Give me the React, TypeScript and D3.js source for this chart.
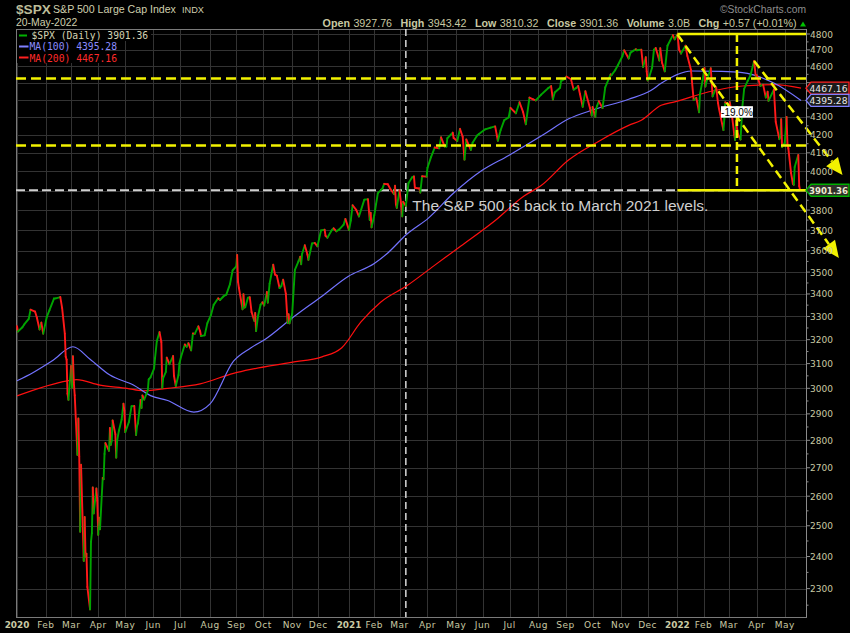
import React from "react";
import * as d3 from "d3";

type Pt = [string, number];

// ---- S&P 500 closes (~2-3 per week) ----
const price2020: Pt[] = [
  ["2020-01-02",3257.85],["2020-01-03",3234.85],["2020-01-08",3253.05],["2020-01-10",3265.35],["2020-01-15",3289.29],["2020-01-17",3329.62],["2020-01-22",3321.75],["2020-01-24",3295.47],["2020-01-27",3243.63],["2020-01-29",3273.40],["2020-01-31",3225.52],
  ["2020-02-04",3297.59],["2020-02-07",3327.71],["2020-02-12",3379.45],["2020-02-14",3380.16],["2020-02-19",3386.15],["2020-02-21",3337.75],["2020-02-24",3225.89],["2020-02-25",3128.21],["2020-02-26",3116.39],["2020-02-27",2978.76],["2020-02-28",2954.22],
  ["2020-03-02",3090.23],["2020-03-03",3003.37],["2020-03-04",3130.12],["2020-03-05",3023.94],["2020-03-06",2972.37],["2020-03-09",2746.56],["2020-03-10",2882.23],["2020-03-11",2741.38],["2020-03-12",2480.64],["2020-03-13",2711.02],["2020-03-16",2386.13],["2020-03-17",2529.19],["2020-03-18",2398.10],["2020-03-19",2409.39],["2020-03-20",2304.92],["2020-03-23",2237.40],["2020-03-24",2447.33],["2020-03-25",2475.56],["2020-03-26",2630.07],["2020-03-27",2541.47],["2020-03-30",2626.65],["2020-03-31",2584.59],
  ["2020-04-01",2470.50],["2020-04-02",2526.90],["2020-04-03",2488.65],["2020-04-06",2663.68],["2020-04-07",2659.41],["2020-04-08",2749.98],["2020-04-09",2789.82],["2020-04-13",2761.63],["2020-04-14",2846.06],["2020-04-15",2783.36],["2020-04-16",2799.55],["2020-04-17",2874.56],["2020-04-20",2823.16],["2020-04-21",2736.56],["2020-04-22",2799.31],["2020-04-24",2836.74],["2020-04-27",2878.48],["2020-04-29",2939.51],["2020-04-30",2912.43],
  ["2020-05-01",2830.71],["2020-05-05",2868.44],["2020-05-08",2929.80],["2020-05-11",2930.32],["2020-05-13",2820.00],["2020-05-14",2852.50],["2020-05-15",2863.70],["2020-05-18",2953.91],["2020-05-19",2922.94],["2020-05-20",2971.61],["2020-05-22",2955.45],["2020-05-26",2991.77],["2020-05-27",3036.13],["2020-05-29",3044.31],
  ["2020-06-02",3080.82],["2020-06-03",3122.87],["2020-06-05",3193.93],["2020-06-08",3232.39],["2020-06-10",3190.14],["2020-06-11",3002.10],["2020-06-12",3041.31],["2020-06-15",3066.59],["2020-06-16",3124.74],["2020-06-19",3097.74],["2020-06-23",3131.29],["2020-06-24",3050.33],["2020-06-26",3009.05],["2020-06-29",3053.24],["2020-06-30",3100.29],
  ["2020-07-02",3130.01],["2020-07-06",3179.72],["2020-07-08",3169.94],["2020-07-10",3185.04],["2020-07-13",3155.22],["2020-07-15",3226.56],["2020-07-17",3224.73],["2020-07-21",3257.30],["2020-07-23",3235.66],["2020-07-24",3215.63],["2020-07-28",3218.44],["2020-07-31",3271.12],
  ["2020-08-04",3306.51],["2020-08-07",3351.28],["2020-08-12",3380.35],["2020-08-14",3372.85],["2020-08-18",3389.78],["2020-08-21",3397.16],["2020-08-25",3443.62],["2020-08-28",3508.01],
  ["2020-09-01",3526.65],["2020-09-02",3580.84],["2020-09-03",3455.06],["2020-09-04",3426.96],["2020-09-08",3331.84],["2020-09-09",3398.96],["2020-09-10",3339.19],["2020-09-11",3340.97],["2020-09-14",3383.54],["2020-09-16",3385.49],["2020-09-18",3319.47],["2020-09-21",3281.06],["2020-09-22",3315.57],["2020-09-23",3236.92],["2020-09-25",3298.46],["2020-09-28",3351.60],["2020-09-30",3363.00],
  ["2020-10-02",3348.44],["2020-10-05",3408.63],["2020-10-06",3360.97],["2020-10-08",3446.83],["2020-10-12",3534.22],["2020-10-14",3488.67],["2020-10-16",3483.81],["2020-10-19",3426.92],["2020-10-21",3435.56],["2020-10-23",3465.39],["2020-10-26",3400.97],["2020-10-28",3271.03],["2020-10-29",3310.11],["2020-10-30",3269.96],
  ["2020-11-02",3310.24],["2020-11-04",3443.44],["2020-11-05",3510.45],["2020-11-09",3550.50],["2020-11-11",3572.66],["2020-11-12",3537.01],["2020-11-13",3585.15],["2020-11-16",3626.91],["2020-11-19",3581.87],["2020-11-20",3557.54],["2020-11-24",3635.41],["2020-11-27",3638.35],["2020-11-30",3621.63],
  ["2020-12-04",3699.12],["2020-12-08",3702.25],["2020-12-09",3672.82],["2020-12-11",3663.46],["2020-12-16",3701.17],["2020-12-18",3709.41],["2020-12-21",3694.92],["2020-12-24",3703.06],["2020-12-29",3727.04],["2020-12-31",3756.07],
];
const price2021: Pt[] = [
  ["2021-01-04",3700.65],["2021-01-06",3748.14],["2021-01-08",3824.68],["2021-01-12",3801.19],["2021-01-15",3768.25],["2021-01-21",3853.07],["2021-01-25",3855.36],["2021-01-27",3750.77],["2021-01-28",3787.38],["2021-01-29",3714.24],
  ["2021-02-01",3773.86],["2021-02-03",3830.17],["2021-02-05",3886.83],["2021-02-10",3909.88],["2021-02-12",3934.83],["2021-02-16",3932.59],["2021-02-19",3906.71],["2021-02-23",3881.37],["2021-02-24",3925.43],["2021-02-25",3829.34],["2021-02-26",3811.15],
  ["2021-03-01",3901.82],["2021-03-03",3819.72],["2021-03-04",3768.47],["2021-03-05",3841.94],["2021-03-08",3821.35],["2021-03-11",3939.34],["2021-03-15",3968.94],["2021-03-17",3974.12],["2021-03-18",3915.46],["2021-03-19",3913.10],["2021-03-23",3910.52],["2021-03-24",3889.14],["2021-03-26",3974.54],["2021-03-31",3972.89],
  ["2021-04-01",4019.87],["2021-04-05",4077.91],["2021-04-09",4128.80],["2021-04-14",4124.66],["2021-04-16",4185.47],["2021-04-20",4134.94],["2021-04-22",4134.98],["2021-04-23",4180.17],["2021-04-29",4211.47],["2021-04-30",4181.17],
  ["2021-05-04",4164.66],["2021-05-07",4232.60],["2021-05-10",4188.43],["2021-05-12",4063.04],["2021-05-14",4173.85],["2021-05-19",4115.68],["2021-05-21",4155.86],["2021-05-26",4195.99],["2021-05-28",4204.11],
  ["2021-06-04",4229.89],["2021-06-10",4239.18],["2021-06-15",4246.59],["2021-06-18",4166.45],["2021-06-21",4224.79],["2021-06-25",4280.70],["2021-06-30",4297.50],
  ["2021-07-02",4352.34],["2021-07-08",4320.82],["2021-07-12",4384.63],["2021-07-16",4327.16],["2021-07-19",4258.49],["2021-07-23",4411.79],["2021-07-27",4401.46],["2021-07-30",4395.26],
  ["2021-08-05",4429.10],["2021-08-13",4468.00],["2021-08-16",4479.71],["2021-08-18",4400.27],["2021-08-20",4441.67],["2021-08-26",4469.91],["2021-08-27",4509.37],["2021-08-31",4522.68],
  ["2021-09-02",4536.95],["2021-09-07",4520.03],["2021-09-10",4458.58],["2021-09-13",4468.73],["2021-09-15",4480.70],["2021-09-17",4432.99],["2021-09-20",4357.73],["2021-09-23",4448.98],["2021-09-28",4352.63],["2021-09-30",4307.54],
  ["2021-10-01",4357.04],["2021-10-04",4300.46],["2021-10-05",4345.72],["2021-10-06",4363.55],["2021-10-08",4391.34],["2021-10-12",4350.65],["2021-10-15",4471.37],["2021-10-21",4549.78],["2021-10-22",4544.90],["2021-10-26",4574.79],["2021-10-29",4605.38],
  ["2021-11-03",4660.57],["2021-11-05",4697.53],["2021-11-10",4646.71],["2021-11-12",4682.85],["2021-11-18",4704.54],["2021-11-19",4697.96],["2021-11-24",4701.46],["2021-11-26",4594.62],["2021-11-29",4655.27],["2021-11-30",4567.00],
  ["2021-12-01",4513.04],["2021-12-03",4538.43],["2021-12-06",4591.67],["2021-12-08",4701.21],["2021-12-10",4712.02],["2021-12-14",4634.09],["2021-12-15",4709.85],["2021-12-17",4620.64],["2021-12-20",4568.02],["2021-12-23",4725.79],["2021-12-29",4793.06],["2021-12-31",4766.18],
];
const price2022: Pt[] = [
  ["2022-01-03",4796.56],["2022-01-05",4700.58],["2022-01-07",4677.03],["2022-01-12",4726.35],["2022-01-14",4662.85],["2022-01-18",4577.11],["2022-01-21",4397.94],["2022-01-24",4410.13],["2022-01-27",4326.51],["2022-01-28",4431.85],["2022-01-31",4515.55],
  ["2022-02-02",4589.38],["2022-02-03",4477.44],["2022-02-04",4500.53],["2022-02-09",4587.18],["2022-02-10",4504.08],["2022-02-11",4418.64],["2022-02-15",4471.07],["2022-02-17",4380.26],["2022-02-18",4348.87],["2022-02-23",4225.50],["2022-02-24",4288.70],["2022-02-25",4384.65],["2022-02-28",4373.94],
  ["2022-03-01",4306.26],["2022-03-02",4386.54],["2022-03-04",4328.87],["2022-03-07",4201.09],["2022-03-08",4170.70],["2022-03-09",4277.88],["2022-03-11",4204.31],["2022-03-14",4173.11],["2022-03-16",4357.86],["2022-03-18",4463.12],["2022-03-22",4511.61],["2022-03-25",4543.06],["2022-03-29",4631.60],["2022-03-31",4530.41],
  ["2022-04-01",4545.86],["2022-04-05",4481.15],["2022-04-08",4488.28],["2022-04-11",4412.53],["2022-04-13",4446.59],["2022-04-14",4392.59],["2022-04-20",4459.45],["2022-04-22",4271.78],["2022-04-26",4175.20],["2022-04-27",4183.96],["2022-04-28",4287.50],["2022-04-29",4131.93],
  ["2022-05-02",4155.38],["2022-05-04",4300.17],["2022-05-05",4146.87],["2022-05-06",4123.34],["2022-05-09",3991.24],["2022-05-11",3935.18],["2022-05-12",3930.08],["2022-05-13",4023.89],["2022-05-17",4088.85],["2022-05-18",3923.68],["2022-05-19",3900.79],["2022-05-20",3901.36],
];

// ---- moving averages ----
const ma100: Pt[] = [
  ["2020-01-02",3030],["2020-01-20",3064],["2020-02-11",3114],["2020-03-04",3170],["2020-03-23",3118],["2020-04-14",3053],["2020-05-10",3013],["2020-05-29",2971],["2020-06-17",2952],["2020-07-16",2907],["2020-08-03",2939],["2020-08-29",3110],["2020-09-17",3165],["2020-10-04",3204],["2020-11-01",3290],["2020-12-05",3390],["2021-01-03",3480],["2021-02-01",3540],["2021-02-16",3590],["2021-03-09",3680],["2021-04-02",3760],["2021-04-30",3887],["2021-05-30",4001],["2021-06-30",4086],["2021-08-09",4205],["2021-09-04",4288],["2021-10-03",4343],["2021-11-10",4402],["2021-12-05",4455],["2021-12-16",4496],["2022-01-19",4570],["2022-02-21",4568],["2022-03-16",4560],["2022-04-21",4495],["2022-05-20",4395.28],
];
const ma200: Pt[] = [
  ["2020-01-02",2970],["2020-02-27",3030],["2020-03-08",3035],["2020-04-03",3013],["2020-05-03",3000],["2020-05-21",2990],["2020-06-17",3000],["2020-07-23",3018],["2020-08-29",3060],["2020-09-17",3076],["2020-11-01",3105],["2020-12-05",3128],["2020-12-27",3166],["2021-01-17",3275],["2021-02-08",3363],["2021-03-09",3437],["2021-04-08",3529],["2021-05-08",3623],["2021-06-14",3744],["2021-07-17",3872],["2021-08-05",3926],["2021-09-04",4060],["2021-10-08",4164],["2021-11-10",4252],["2021-11-24",4281],["2021-12-16",4367],["2021-12-31",4387],["2022-02-07",4446],["2022-03-16",4480],["2022-04-21",4488],["2022-05-20",4467.16],
];

// ---- axis / annotations ----
const yTickValues = d3.range(2300, 4801, 100);
const yMinorValues = d3.range(2250, 4801, 50).filter((v) => v % 100 !== 0);
const yDomain: [number, number] = [2215, 4832];
const dateDomain: [string, string] = ["2020-01-02", "2022-05-20"];
const dashedLevels = [4525, 4140];
const lastClose = 3901.36;
const peakLevel = 4800;
const rangeStartDate = "2022-01-03";
const dropMarkDate = "2022-03-10";
const dropLabel = "-19.0%";
const dropLabelValue = 4330;
const marchLineDate = "2021-03-08";
const trendLines: [Pt, Pt][] = [
  [["2022-01-03", 4796.56], ["2022-07-01", 3566]],
  [["2022-03-29", 4631.6], ["2022-07-05", 3981]],
];
const headerItems: [string, string][] = [
  ["Open", "3927.76"], ["High", "3943.42"], ["Low", "3810.32"], ["Close", "3901.36"], ["Volume", "3.0B"], ["Chg", "+0.57 (+0.01%)"],
];

const W = 850, H = 633;
const L = 16, R = 806, T = 29, B = 617;
const SANS = "Arial, 'Liberation Sans', sans-serif";
const DJ = "'DejaVu Sans', Verdana, sans-serif";
const MONO = "'DejaVu Sans Mono', monospace";
const KHAKI = "#c9c9a3";

const parse = (s: string) => d3.utcParse("%Y-%m-%d")(s) as Date;

export default function App() {
  const prices = [...price2020, ...price2021, ...price2022].map(([d, v]) => ({ date: parse(d), value: v }));
  const x = d3.scaleUtc().domain(dateDomain.map(parse)).range([17, 801]);
  const y = d3.scaleLog().domain(yDomain).range([B, T]);

  const months = d3.utcMonth.range(new Date(Date.UTC(2020, 0, 1)), new Date(Date.UTC(2022, 5, 1)));
  const firstTrading = (m: Date) => {
    const d = new Date(m.getTime());
    if (d.getUTCMonth() === 0) d.setUTCDate(2);
    while (d.getUTCDay() === 0 || d.getUTCDay() === 6) d.setUTCDate(d.getUTCDate() + 1);
    return d;
  };
  const monthTicks = months.map((m) => ({
    x: x(firstTrading(m)),
    label: m.getUTCMonth() === 0 ? String(m.getUTCFullYear()) : d3.utcFormat("%b")(m),
    year: m.getUTCMonth() === 0,
  }));

  const maLine = d3.line<Pt>().x((d) => x(parse(d[0]))).y((d) => y(d[1])).curve(d3.curveMonotoneX);

  const segs = prices.slice(1).map((p, i) => {
    const prev = prices[i];
    return { x1: x(prev.date), y1: y(prev.value), x2: x(p.date), y2: y(p.value), up: p.value >= prev.value };
  });

  const arrow = (a: Pt, b: Pt) => {
    const x1 = x(parse(a[0])), y1 = y(a[1]), x2 = x(parse(b[0])), y2 = y(b[1]);
    const len = Math.hypot(x2 - x1, y2 - y1);
    const ux = (x2 - x1) / len, uy = (y2 - y1) / len;
    const hl = 17, hw = 7.5;
    const bx = x2 - ux * hl, by = y2 - uy * hl;
    return {
      x1, y1, bx, by,
      pts: `${x2},${y2} ${bx - uy * hw},${by + ux * hw} ${bx + uy * hw},${by - ux * hw}`,
    };
  };

  const xr0 = x(parse(rangeStartDate));
  const xDrop = x(parse(dropMarkDate));
  const xMarch = x(parse(marchLineDate));
  const yClose = y(lastClose);

  const ma100Last = ma100[ma100.length - 1][1];
  const ma200Last = ma200[ma200.length - 1][1];

  const boxes = [
    { v: ma200Last, stroke: "#ff2020", fill: "#1c1c1c", color: "#e6e6e6", bold: false },
    { v: ma100Last, stroke: "#8080ff", fill: "#1c1c1c", color: "#e6e6e6", bold: false },
    { v: lastClose, stroke: "#00b000", fill: "#30302a", color: "#ececd0", bold: true },
  ];
  // tick labels that sit under a value box are hidden by it, as in the reference
  const visibleTicks = yTickValues.filter((v) => boxes.every((b) => Math.abs(y(v) - y(b.v)) > 6.5));

  return (
    <svg width={W} height={H} style={{ position: "absolute", left: 0, top: 0, background: "#000" }}>
      <rect x={0} y={0} width={W} height={H} fill="#000" />
      {/* grid */}
      <g stroke="#333" strokeWidth={1}>
        {yTickValues.map((v) => (
          <line key={v} x1={L} x2={R} y1={Math.round(y(v)) + 0.5} y2={Math.round(y(v)) + 0.5} />
        ))}
        {monthTicks.map((m, i) => (
          <line key={i} x1={Math.round(m.x) + 0.5} x2={Math.round(m.x) + 0.5} y1={T} y2={B} />
        ))}
      </g>
      {/* frame */}
      <rect x={L + 0.5} y={T + 0.5} width={R - L} height={B - T} fill="none" stroke="#7a7a7a" strokeWidth={1} />

      {/* white dashed reference lines */}
      <line x1={xMarch} x2={xMarch} y1={T} y2={B} stroke="#d8d8d8" strokeWidth={1.5} strokeDasharray="7 4" />
      <line x1={L} x2={R} y1={yClose} y2={yClose} stroke="#d0d0d0" strokeWidth={2} strokeDasharray="9 4" />

      {/* moving averages */}
      <path d={maLine(ma200) || ""} fill="none" stroke="#ff1010" strokeWidth={1.2} />
      <path d={maLine(ma100) || ""} fill="none" stroke="#7373ff" strokeWidth={1.2} />

      {/* price */}
      <g strokeWidth={1.9} strokeLinecap="round">
        {segs.map((s, i) => (
          <line key={i} x1={s.x1} y1={s.y1} x2={s.x2} y2={s.y2} stroke={s.up ? "#00a400" : "#ff1a1a"} />
        ))}
      </g>

      {/* yellow dashed horizontal levels */}
      {dashedLevels.map((v) => (
        <line key={v} x1={L} x2={R} y1={y(v)} y2={y(v)} stroke="#f2f200" strokeWidth={2.5} strokeDasharray="10 5" />
      ))}
      {/* drawdown range */}
      <line x1={xr0} x2={R} y1={y(peakLevel)} y2={y(peakLevel)} stroke="#f2f200" strokeWidth={2.5} />
      <line x1={xr0} x2={R} y1={yClose} y2={yClose} stroke="#f2f200" strokeWidth={2.5} />
      <line x1={xDrop} x2={xDrop} y1={y(peakLevel)} y2={yClose} stroke="#f2f200" strokeWidth={2.5} strokeDasharray="8 4" />
      {/* trend arrows */}
      {trendLines.map(([a, b], i) => {
        const ar = arrow(a, b);
        return (
          <g key={i}>
            <line x1={ar.x1} y1={ar.y1} x2={ar.bx} y2={ar.by} stroke="#f2f200" strokeWidth={2.5} strokeDasharray="9 5" />
            <polygon points={ar.pts} fill="#f2f200" />
          </g>
        );
      })}
      {/* -19% label */}
      <rect x={xDrop - 16} y={y(dropLabelValue) - 5.5} width={32} height={11.5} fill="#fff" />
      <text x={xDrop} y={y(dropLabelValue) + 4} textAnchor="middle" fontFamily={SANS} fontSize={10} fill="#000">{dropLabel}</text>

      {/* annotation text */}
      <text x={xMarch + 6.5} y={yClose + 21} fontFamily={SANS} fontSize={15.5} fill="#cfcfcf">The S&amp;P 500 is back to March 2021 levels.</text>

      {/* legend */}
      <rect x={17} y={30} width={134} height={11} fill="#000" />
      <rect x={17} y={41} width={88} height={11} fill="#000" />
      <rect x={17} y={52} width={88} height={11} fill="#000" />
      <line x1={19} x2={27} y1={35.5} y2={35.5} stroke="#00b000" strokeWidth={2} />
      <line x1={19} x2={28.5} y1={46.5} y2={46.5} stroke="#8080ff" strokeWidth={2} />
      <line x1={19} x2={28.5} y1={57.5} y2={57.5} stroke="#ff2020" strokeWidth={2} />
      <text x={31.5} y={39.3} fontFamily={MONO} fontSize={9.7} fill="#d4d4b4">$SPX (Daily) {lastClose.toFixed(2)}</text>
      <text x={29.5} y={50.3} fontFamily={MONO} fontSize={9.7} fill="#8c8cff">MA(100) {ma100Last.toFixed(2)}</text>
      <text x={29.5} y={61.5} fontFamily={MONO} fontSize={9.7} fill="#ff2a2a">MA(200) {ma200Last.toFixed(2)}</text>

      {/* title */}
      <text x={16} y={13.5} fontFamily={SANS} fontWeight="bold" fontSize={13.6} fill="#bcbc98">$SPX</text>
      <text x={53} y={12.8} fontFamily={SANS} fontSize={10.6} fill="#cfcfae">S&amp;P 500 Large Cap Index</text>
      <text x={182} y={12.8} fontFamily={SANS} fontSize={9.2} fill="#cfcfae">INDX</text>
      <text x={16} y={26} fontFamily={SANS} fontSize={10.4} fill="#cfcfae">20-May-2022</text>
      <text x={806} y={12.5} textAnchor="end" fontFamily={SANS} fontSize={10.3} fill="#8e8e8e">©StockCharts.com</text>
      <text x={796.5} y={27.3} textAnchor="end" fontFamily={SANS} fontSize={10.7} fill={KHAKI}>
        {headerItems.map(([k, v], i) => (
          <React.Fragment key={k}>
            <tspan fontWeight="bold" dx={i === 0 ? 0 : 8.5}>{k}</tspan>
            <tspan dx={3.5}>{v}</tspan>
          </React.Fragment>
        ))}
      </text>
      <polygon points="800,26.5 806,26.5 803,21.5" fill="#00c000" />

      {/* right axis */}
      <line x1={R + 0.5} x2={R + 0.5} y1={T} y2={B} stroke="#8a8a8a" />
      {yMinorValues.map((v) => (
        <line key={v} x1={R} x2={R + 2.5} y1={y(v)} y2={y(v)} stroke="#8a8a8a" />
      ))}
      {yTickValues.map((v) => (
        <line key={v} x1={R} x2={R + 4} y1={y(v)} y2={y(v)} stroke="#8a8a8a" />
      ))}
      {visibleTicks.map((v) => (
        <text key={v} x={810} y={y(v) + 3.5} fontFamily={DJ} fontSize={9} fill={KHAKI}>{v}</text>
      ))}
      {/* value boxes */}
      {boxes.map((b, i) => {
        const yy = y(b.v);
        return (
          <g key={i}>
            <path d={`M${R},${yy} L${R + 5},${yy - 6} L849,${yy - 6} L849,${yy + 6} L${R + 5},${yy + 6} Z`} fill={b.fill} stroke={b.stroke} strokeWidth={1.3} />
            <text x={828.5} y={yy + 3.4} textAnchor="middle" fontFamily={DJ} fontSize={b.bold ? 8.6 : 9.2} fontWeight={b.bold ? "bold" : "normal"} fill={b.color}>
              {b.v.toFixed(2)}
            </text>
          </g>
        );
      })}

      {/* bottom axis labels */}
      {monthTicks.map((m, i) => (
        <text key={i} x={m.x} y={628} textAnchor="middle" fontFamily={DJ} fontSize={m.year ? 8.9 : 9} fontWeight={m.year ? "bold" : "normal"} letterSpacing={m.year ? 0 : 0.5} fill={KHAKI}>
          {m.label}
        </text>
      ))}
    </svg>
  );
}
